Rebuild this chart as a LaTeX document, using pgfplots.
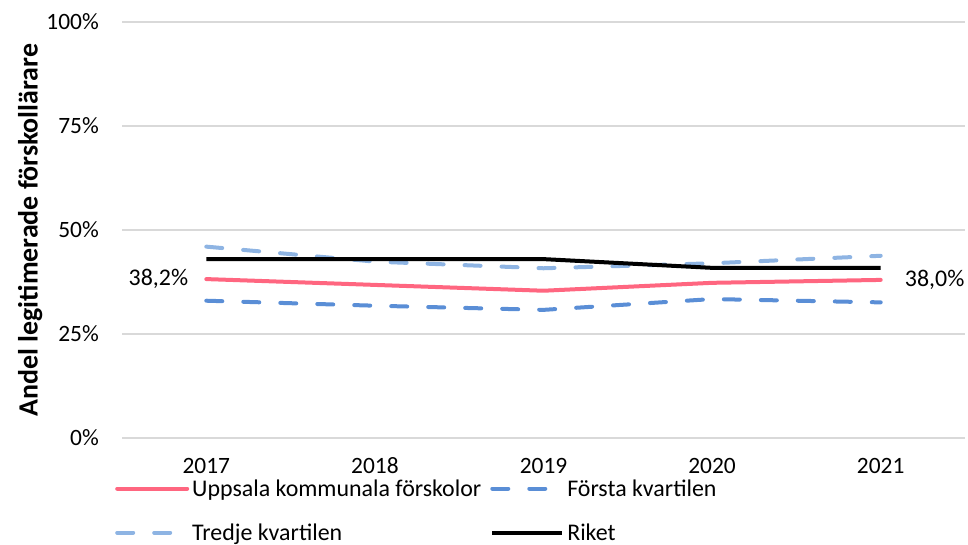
\documentclass[border=0pt]{standalone}
\usepackage{pgfplots}
\pgfplotsset{compat=1.18}
\usepackage{fontspec}
\setmainfont{Carlito}
\definecolor{upp}{HTML}{FF6680}
\definecolor{qone}{HTML}{5A8ED6}
\definecolor{qthree}{HTML}{8EB4E3}
\definecolor{gridc}{HTML}{D9D9D9}
\begin{document}
\begin{tikzpicture}
\useasboundingbox (0,0) rectangle (968bp,545bp);
\begin{axis}[
  at={(122bp,107bp)}, anchor=south west,
  scale only axis, width=843bp, height=416bp,
  xmin=2016.5, xmax=2021.5, ymin=0, ymax=100,
  xtick={2017,2018,2019,2020,2021},
  xticklabels={2017,2018,2019,2020,2021},
  ytick={0,25,50,75,100},
  yticklabels={0\%,25\%,50\%,75\%,100\%},
  axis line style={draw=none},
  major tick length=0pt,
  ymajorgrids, grid style={draw=gridc, line width=1.5bp},
  tick label style={font=\fontsize{23.5}{28}\selectfont},
  xticklabel style={anchor=base, yshift=-36bp},
  yticklabel style={anchor=east, inner sep=0pt, xshift=-23bp},
  ylabel={\bfseries Andel legitimerade förskollärare},
  ylabel style={font=\fontsize{28}{32}\selectfont, at={(axis description cs:-0.109,0.5)}, anchor=center},
  legend columns=2,
  legend style={at={(-0.0083,-0.092)}, anchor=north west, draw=none, fill=none,
    inner sep=0pt, row sep=20bp,
    font=\fontsize{24}{28}\selectfont,
    nodes={inner sep=3bp, anchor=west},
    /tikz/every even column/.append style={column sep=6bp}},
  legend image code/.code={\draw[#1] (0bp,0bp) -- (70bp,0bp);},
  clip=false,
]
\addplot[upp, line width=4bp, line cap=round] coordinates {(2017,38.2) (2018,36.8) (2019,35.4) (2020,37.3) (2021,38.0)};
\addlegendentry{Uppsala kommunala förskolor}
\addplot[qone, line width=4bp, line cap=round, dash pattern=on 16bp off 21bp] coordinates {(2017,33.0) (2018,31.8) (2019,30.8) (2020,33.4) (2021,32.6)};
\addlegendentry{Första kvartilen}
\addplot[qthree, line width=4bp, line cap=round, dash pattern=on 16bp off 21bp] coordinates {(2017,46.0) (2018,42.4) (2019,40.8) (2020,42.0) (2021,43.8)};
\addlegendentry{Tredje kvartilen}
\addplot[black, line width=4bp] coordinates {(2017,43.0) (2018,43.0) (2019,43.0) (2020,40.9) (2021,40.9)};
\addlegendentry{Riket}
\node[anchor=east, inner sep=0pt, font=\fontsize{24}{28}\selectfont, xshift=-18bp] at (axis cs:2017,38.2) {38,2\%};
\node[anchor=west, inner sep=0pt, font=\fontsize{24}{28}\selectfont, xshift=24bp] at (axis cs:2021,38.0) {38,0\%};
\end{axis}
\end{tikzpicture}
\end{document}
